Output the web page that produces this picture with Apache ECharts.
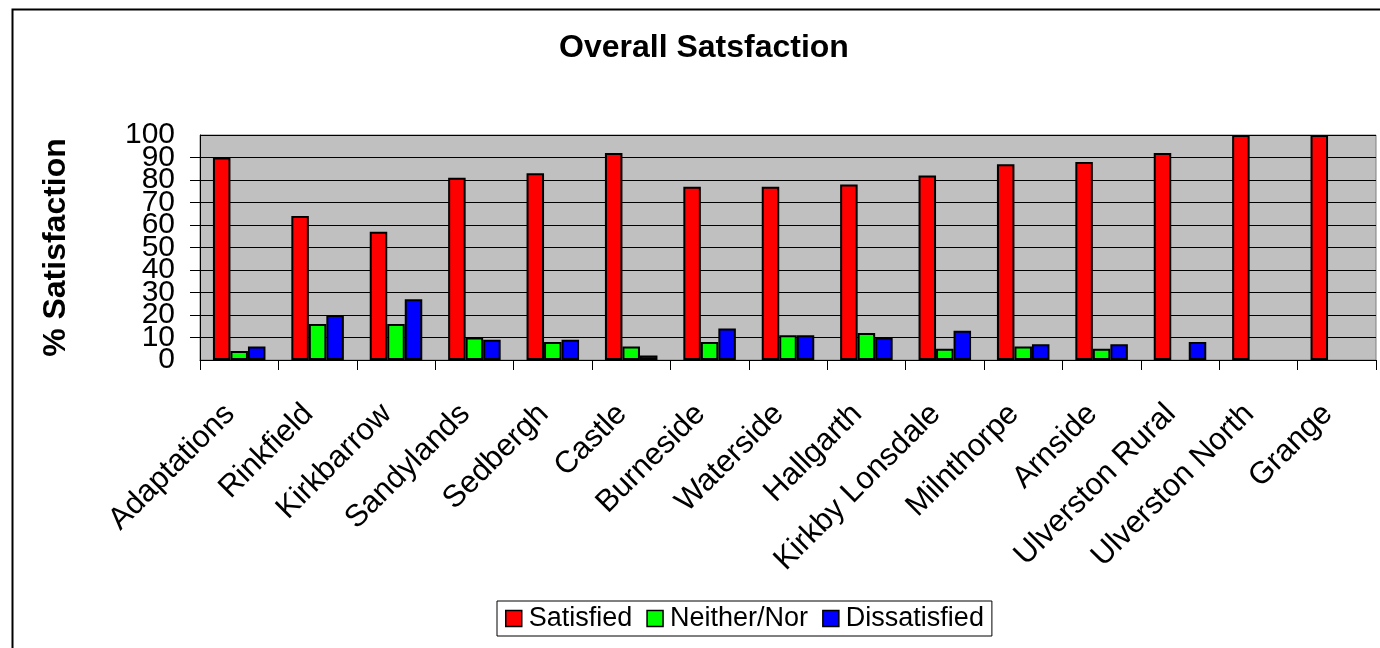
<!DOCTYPE html>
<html>
<head>
<meta charset="utf-8">
<script src="https://cdn.jsdelivr.net/npm/echarts@6/dist/echarts.min.js"></script>
<style>
html,body{margin:0;padding:0;background:#fff;}
#c{width:1380px;height:648px;}
</style>
</head>
<body>
<div id="c"></div>
<script>
const categories = ['Adaptations','Rinkfield','Kirkbarrow','Sandylands','Sedbergh','Castle','Burneside','Waterside','Hallgarth','Kirkby Lonsdale','Milnthorpe','Arnside','Ulverston Rural','Ulverston North','Grange'];
const satisfied = [90, 64, 57, 81, 83, 92, 77, 77, 78, 82, 87, 88, 92, 100, 100];
const neither = [4, 16, 16, 10, 8, 6, 8, 11, 12, 5, 6, 5, null, null, null];
const dissatisfied = [6, 20, 27, 9, 9, 2, 14, 11, 10, 13, 7, 7, 8, null, null];
const yTicks = [0, 100, 10];

const FONT = '"Liberation Sans", Arial, sans-serif';
const chart = echarts.init(document.getElementById('c'), null, {renderer: 'canvas'});

function bar(name, data, color) {
  return {
    name: name, type: 'bar', data: data, yAxisIndex: 0,
    barGap: '0%', barCategoryGap: '33%',
    itemStyle: {color: color, borderColor: '#000', borderWidth: 2},
    emphasis: {disabled: true}
  };
}

const yLabel = {fontSize: 30, fontFamily: FONT, color: '#000', margin: 25};

chart.setOption({
  animation: false,
  backgroundColor: '#fff',
  textStyle: {fontFamily: FONT, color: '#000'},
  graphic: [{
    type: 'rect', left: 10, top: 7, silent: true, z: 100,
    shape: {width: 1400, height: 700},
    style: {fill: 'none', stroke: '#000', lineWidth: 2}
  }],
  title: {
    text: 'Overall Satsfaction', left: 559, top: 32, padding: 0,
    textStyle: {fontFamily: FONT, fontSize: 32, fontWeight: 'bold', color: '#000'}
  },
  legend: {
    left: 497, top: 601, padding: [4, 8, 4, 8],
    borderColor: '#000', borderWidth: 1,
    itemWidth: 16, itemHeight: 16, itemGap: 14,
    icon: 'rect',
    itemStyle: {borderColor: '#000', borderWidth: 1.5},
    textStyle: {fontFamily: FONT, fontSize: 27, color: '#000', padding: [0, 0, 0, 2]},
    selectedMode: false,
    data: ['Satisfied', 'Neither/Nor', 'Dissatisfied']
  },
  grid: {
    left: 200, right: 4, top: 135, bottom: 288,
    show: true, backgroundColor: '#C0C0C0', borderColor: '#808080', borderWidth: 1
  },
  xAxis: {
    type: 'category', data: categories,
    axisLine: {lineStyle: {color: '#000', width: 1}},
    axisTick: {show: true, length: 10, lineStyle: {color: '#000'}},
    axisLabel: {rotate: 45, fontSize: 31, fontFamily: FONT, color: '#000', margin: 40, interval: 0, padding: [0, 13, 0, 0]}
  },
  yAxis: [{
    type: 'value', position: 'left', min: yTicks[0], max: yTicks[1], interval: yTicks[2],
    name: '% Satisfaction', nameLocation: 'middle', nameRotate: 90, nameGap: 128,
    nameTextStyle: {fontFamily: FONT, fontSize: 32, fontWeight: 'bold', color: '#000'},
    axisLine: {show: true, lineStyle: {color: '#000', width: 1}},
    axisTick: {show: true, length: 10, lineStyle: {color: '#000'}},
    axisLabel: Object.assign({showMinLabel: false, showMaxLabel: false}, yLabel),
    splitLine: {show: true, lineStyle: {color: '#000', width: 1}}
  }, {
    type: 'value', position: 'left', offset: 0, min: yTicks[0], max: yTicks[1], interval: yTicks[1] - yTicks[0],
    axisLine: {show: false}, axisTick: {show: false}, splitLine: {show: false},
    axisLabel: Object.assign({showMinLabel: true, showMaxLabel: true}, yLabel)
  }],
  series: [
    bar('Satisfied', satisfied, '#FF0000'),
    bar('Neither/Nor', neither, '#00FF00'),
    bar('Dissatisfied', dissatisfied, '#0000FF')
  ]
});
</script>
</body>
</html>
